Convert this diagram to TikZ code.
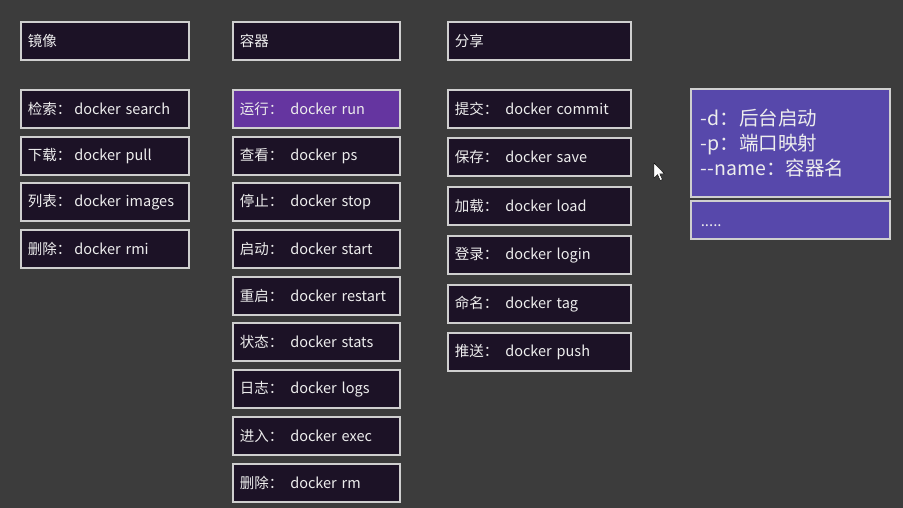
\documentclass[tikz,border=0pt]{standalone}
\usepackage{fontspec}
\setmainfont{Noto Sans CJK SC}
\definecolor{bg}{HTML}{3C3C3C}
\definecolor{boxfill}{HTML}{1C1226}
\definecolor{boxline}{HTML}{CFCFCF}
\definecolor{runfill}{HTML}{6535A0}
\definecolor{optfill}{HTML}{5748AB}
\definecolor{txt}{HTML}{EDEDED}
\newcommand{\ga}{\hspace{3pt}}
\newcommand{\gb}{\hspace{7pt}}
\begin{document}
\begin{tikzpicture}[x=1pt,y=-1pt,
  box/.style={draw=boxline,line width=1.6pt,fill=boxfill,anchor=north west,
    inner xsep=7pt,inner ysep=0pt,align=left,text=txt,font=\fontsize{14.5}{17}\selectfont,
    minimum height=38pt},
  colA/.style={box,text width=154pt},
  colB/.style={box,text width=153pt},
  colC/.style={box,text width=169pt},
  opt/.style={box,fill=optfill,text width=179pt,font=\fontsize{19.5}{25}\selectfont,inner xsep=10pt}]
\fill[bg] (0,0) rectangle (903,508);
\useasboundingbox (0,0) rectangle (903,508);
% column 1
\node[colA] (h1) at (20,21) {镜像};
\node[colA] (a1) at (20,89) {检索：\ga docker search};
\node[colA] (a2) at (20,136) {下载：\ga docker pull};
\node[colA] (a3) at (20,182) {列表：\ga docker images};
\node[colA] (a4) at (20,229) {删除：\ga docker rmi};
% column 2
\node[colB] (h2) at (232,21) {容器};
\node[colB,fill=runfill] (b1) at (232,89) {运行：\gb docker run};
\node[colB] (b2) at (232,136) {查看：\gb docker ps};
\node[colB] (b3) at (232,182) {停止：\gb docker stop};
\node[colB] (b4) at (232,229) {启动：\gb docker start};
\node[colB] (b5) at (232,276) {重启：\gb docker restart};
\node[colB] (b6) at (232,322) {状态：\gb docker stats};
\node[colB] (b7) at (232,369) {日志：\gb docker logs};
\node[colB] (b8) at (232,416) {进入：\gb docker exec};
\node[colB] (b9) at (232,463) {删除：\gb docker rm};
% column 3
\node[colC] (h3) at (447,21) {分享};
\node[colC] (c1) at (447,89) {提交：\gb docker commit};
\node[colC] (c2) at (447,137) {保存：\gb docker save};
\node[colC] (c3) at (447,186) {加载：\gb docker load};
\node[colC] (c4) at (447,235) {登录：\gb docker login};
\node[colC] (c5) at (447,284) {命名：\gb docker tag};
\node[colC] (c6) at (447,332) {推送：\gb docker push};
% options
\node[opt,minimum height=108pt] (o1) at (690,88) {-d：后台启动\\-p：端口映射\\{-}{-}name：容器名};
\node[opt,minimum height=38pt,font=\fontsize{15}{17}\selectfont] (o2) at (690,200) {\rule{0pt}{13pt}.....};
% cursor
\fill[white,draw=black,line width=0.4pt] (654,163) -- (654,178) -- (657.6,174.6) -- (660.2,180.5) -- (662.4,179.5) -- (659.8,173.8) -- (664.5,173.8) -- cycle;
\end{tikzpicture}
\end{document}
